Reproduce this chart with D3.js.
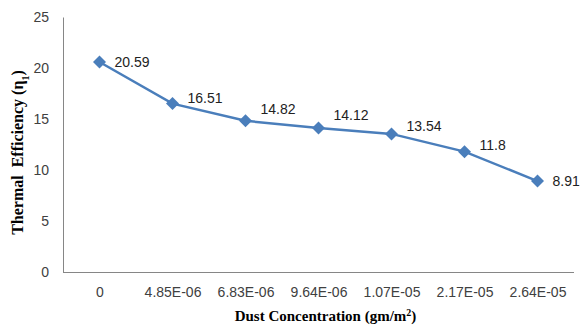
<!DOCTYPE html>
<html>
<head>
<meta charset="utf-8">
<script src="https://cdn.jsdelivr.net/npm/d3@7"></script>
<style>
  body { margin: 0; background: #fff; }
  text { font-family: "Liberation Sans", Arial, sans-serif; }
</style>
</head>
<body>
<svg id="chart" width="580" height="327"></svg>
<script>
// chart data
const categories = ["0", "4.85E-06", "6.83E-06", "9.64E-06", "1.07E-05", "2.17E-05", "2.64E-05"];
const efficiency = [20.59, 16.51, 14.82, 14.12, 13.54, 11.8, 8.91];
const yTicks = [0, 5, 10, 15, 20, 25];
// vertical nudge of each value label (styling only)
const labelDy = [0, -6, -12, -13, -8, -7, 0];

const svg = d3.select("#chart");
const margin = {left: 63, right: 6, top: 17, bottom: 55};
const width = 580, height = 327;

const x = d3.scalePoint()
    .domain(categories)
    .range([margin.left, width - margin.right])
    .padding(0.5);

const y = d3.scaleLinear()
    .domain([0, 25])
    .range([height - margin.bottom, margin.top]);

const axisColor = "#868686";

// y axis
const yAxis = svg.append("g")
    .attr("transform", `translate(${margin.left},0)`)
    .call(d3.axisLeft(y).tickValues(yTicks).tickSize(0).tickPadding(14));
yAxis.select(".domain").attr("stroke", axisColor);
yAxis.selectAll("text").attr("font-size", 14).attr("fill", "#404040");

// x axis
const xAxis = svg.append("g")
    .attr("transform", `translate(0,${y(0)})`)
    .call(d3.axisBottom(x).tickSize(0).tickPadding(15));
xAxis.select(".domain").attr("stroke", axisColor).attr("d", `M${margin.left},0.5H${width - margin.right}`);
xAxis.selectAll("text").attr("font-size", 14).attr("fill", "#404040");

const pts = categories.map((c, i) => ({c: c, v: efficiency[i], dy: labelDy[i]}));

// line
svg.append("path")
    .datum(pts)
    .attr("fill", "none")
    .attr("stroke", "#4a7ebb")
    .attr("stroke-width", 2.5)
    .attr("d", d3.line().x(d => x(d.c)).y(d => y(d.v)));

// diamond markers
svg.selectAll(".marker")
    .data(pts)
    .enter().append("path")
    .attr("class", "marker")
    .attr("fill", "#4a7ebb")
    .attr("transform", d => `translate(${x(d.c)},${y(d.v)})`)
    .attr("d", "M0,-6.5L6.5,0L0,6.5L-6.5,0Z");

// value labels
svg.selectAll(".lbl")
    .data(pts)
    .enter().append("text")
    .attr("class", "lbl")
    .attr("x", d => x(d.c) + 15)
    .attr("y", d => y(d.v) + d.dy + 5)
    .attr("font-size", 14)
    .attr("fill", "#222")
    .text(d => d.v);

// axis titles
svg.append("text")
    .attr("transform", `translate(23,${(y(0) + y(25)) / 2 + 8}) rotate(-90)`)
    .attr("text-anchor", "middle")
    .style("font-family", "'Liberation Serif', 'Times New Roman', serif")
    .attr("font-weight", "bold")
    .attr("font-size", 16)
    .html('Thermal&#160; Efficiency (η<tspan baseline-shift="sub" font-size="10">1</tspan>)');

svg.append("text")
    .attr("x", (margin.left + width - margin.right) / 2 + 7)
    .attr("y", 321)
    .attr("text-anchor", "middle")
    .style("font-family", "'Liberation Serif', 'Times New Roman', serif")
    .attr("font-weight", "bold")
    .attr("font-size", 15)
    .html('Dust Concentration (gm/m<tspan baseline-shift="super" font-size="10">2</tspan>)');
</script>
</body>
</html>
